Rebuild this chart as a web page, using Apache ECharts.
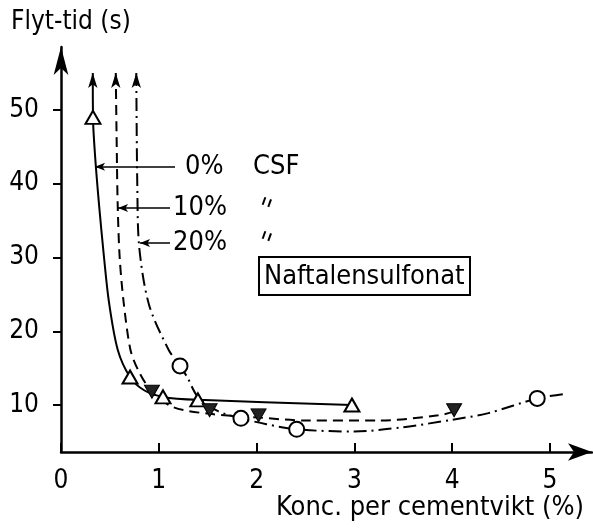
<!DOCTYPE html>
<html><head><meta charset="utf-8">
<script src="https://cdn.jsdelivr.net/npm/echarts@6/dist/echarts.min.js"></script>
<style>html,body{margin:0;padding:0;background:#fff}#c{width:593px;height:528px}</style>
</head><body><div id="c"></div>
<script>
// tick labels
const xTicks = [0, 1, 2, 3, 4, 5];
const yTicks = [10, 20, 30, 40, 50];
// measured points (x = konc. %, y = flyt-tid s)
const csf0Points  = [[0.327, 49.0], [0.706, 13.8], [1.043, 11.1], [1.40, 10.7], [2.975, 10.0]];
const csf10Points = [[0.93, 11.8], [1.52, 9.3], [2.02, 8.6], [4.02, 9.3]];
const csf20Points = [[1.217, 15.3], [1.84, 8.2], [2.41, 6.7], [4.87, 10.9]];
// fitted curves (first point = arrow tip region)
const csf0Curve  = [[0.325, 55.0], [0.327, 49.0], [0.35, 43.5], [0.39, 37], [0.44, 30], [0.49, 24], [0.58, 17.5], [0.706, 13.8], [0.85, 12.0], [1.043, 11.1], [1.40, 10.7], [2.975, 10.0]];
const csf10Curve = [[0.56, 55.0], [0.57, 45], [0.58, 37], [0.60, 30], [0.64, 24], [0.71, 17.5], [0.79, 14.7], [0.93, 11.8], [1.15, 9.7], [1.52, 8.8], [2.02, 8.3], [2.5, 7.9], [3.25, 7.9], [3.86, 8.6], [4.02, 9.1]];
const csf20Curve = [[0.77, 55.0], [0.78, 40], [0.80, 31.4], [0.90, 23.6], [1.10, 17.5], [1.217, 15.3], [1.29, 13.8], [1.40, 11.1], [1.6, 9.2], [1.84, 8.2], [2.1, 7.4], [2.41, 6.7], [3.0, 6.4], [3.5, 7.0], [4.0, 8.0], [4.37, 8.9], [4.87, 10.9], [5.15, 11.5]];
// legend leader lines: [y, xStart (curve), xEnd]
const leader0  = [42.3, 0.348, 1.166];
const leader10 = [36.7, 0.583, 1.115];
const leader20 = [31.97, 0.808, 1.115];

const FONT = 'DejaVu Sans Condensed';
const F27 = '27px "' + FONT + '"';
const chart = echarts.init(document.getElementById('c'), null, {renderer: 'canvas'});

function curve(data, type) {
  return {
    type: 'line', data: data.map((p, i) => i === 0 ? {value: p, symbol: 'arrow', symbolSize: [7, 15]} : {value: p, symbol: 'none'}),
    smooth: 0.3, showSymbol: true, symbol: 'none', silent: true, animation: false, z: 2,
    lineStyle: {color: '#000', width: 2, type: type},
    itemStyle: {color: '#000', opacity: 1}
  };
}
function leader(l) {
  return [{coord: [l[1], l[0]], symbol: 'arrow', symbolSize: [6, 10]}, {coord: [l[2], l[0]], symbol: 'none'}];
}
function ditto(x, y) {
  return {type: 'group', x: x, y: y, rotation: -0.35, children: [
    {type: 'line', shape: {x1: 0, y1: -4, x2: 0, y2: 4}, style: {stroke: '#000', lineWidth: 2}},
    {type: 'line', shape: {x1: 6, y1: -4, x2: 6, y2: 4}, style: {stroke: '#000', lineWidth: 2}}
  ]};
}

chart.setOption({
  animation: false,
  backgroundColor: '#fff',
  grid: {left: 61, right: 1, top: 47, bottom: 76, containLabel: false},
  xAxis: {
    type: 'value', min: 0, max: 5.43,
    axisLine: {lineStyle: {color: '#000', width: 2.5}, symbol: ['none', 'arrow'], symbolSize: [13, 24]},
    axisTick: {show: true, inside: true, length: 9, customValues: xTicks, lineStyle: {color: '#000', width: 2}},
    axisLabel: {customValues: xTicks, color: '#000', fontFamily: FONT, fontSize: 26, margin: 16},
    splitLine: {show: false}
  },
  yAxis: {
    type: 'value', min: 3.63, max: 58.54,
    axisLine: {lineStyle: {color: '#000', width: 2.5}, symbol: ['none', 'arrow'], symbolSize: [11, 28]},
    axisTick: {show: true, inside: false, length: 8, customValues: yTicks, lineStyle: {color: '#000', width: 2}},
    axisLabel: {customValues: yTicks, color: '#000', fontFamily: FONT, fontSize: 26, margin: 22},
    splitLine: {show: false}
  },
  series: [
    curve(csf0Curve, 'solid'),
    curve(csf10Curve, [10, 6]),
    curve(csf20Curve, [13, 5, 2, 5]),
    {type: 'scatter', data: csf0Points, symbol: 'triangle', symbolSize: [15, 13], z: 5, silent: true,
     itemStyle: {color: '#fff', borderColor: '#000', borderWidth: 2, opacity: 1},
     markLine: {silent: true, animation: false, label: {show: false}, lineStyle: {color: '#000', width: 1.5, type: 'solid'},
       data: [leader(leader0), leader(leader10), leader(leader20)]}},
    {type: 'scatter', data: csf10Points, symbol: 'triangle', symbolRotate: 180, symbolSize: [15, 13], z: 5, silent: true,
     itemStyle: {color: '#222', borderColor: '#000', borderWidth: 1, opacity: 1}},
    {type: 'scatter', data: csf20Points, symbol: 'circle', symbolSize: 15, z: 5, silent: true,
     itemStyle: {color: '#fff', borderColor: '#000', borderWidth: 2, opacity: 1}}
  ],
  graphic: [
    {type: 'text', left: 11, top: 9, style: {text: 'Flyt-tid (s)', font: '26px "' + FONT + '"', fill: '#000'}},
    {type: 'text', right: 9, top: 494, style: {text: 'Konc. per cementvikt (%)', font: F27, fill: '#000'}},
    {type: 'text', x: 185, y: 167, style: {text: '0%', font: F27, fill: '#000', verticalAlign: 'middle'}},
    {type: 'text', x: 253, y: 167, style: {text: 'CSF', font: F27, fill: '#000', verticalAlign: 'middle'}},
    {type: 'text', x: 173, y: 208, style: {text: '10%', font: F27, fill: '#000', verticalAlign: 'middle'}},
    ditto(264, 201),
    {type: 'text', x: 173, y: 243, style: {text: '20%', font: F27, fill: '#000', verticalAlign: 'middle'}},
    ditto(264, 235),
    {type: 'rect', shape: {x: 259, y: 257, width: 211, height: 38}, style: {fill: 'none', stroke: '#000', lineWidth: 2}},
    {type: 'text', x: 264, y: 277, style: {text: 'Naftalensulfonat', font: F27, fill: '#000', verticalAlign: 'middle'}}
  ]
});
</script></body></html>
